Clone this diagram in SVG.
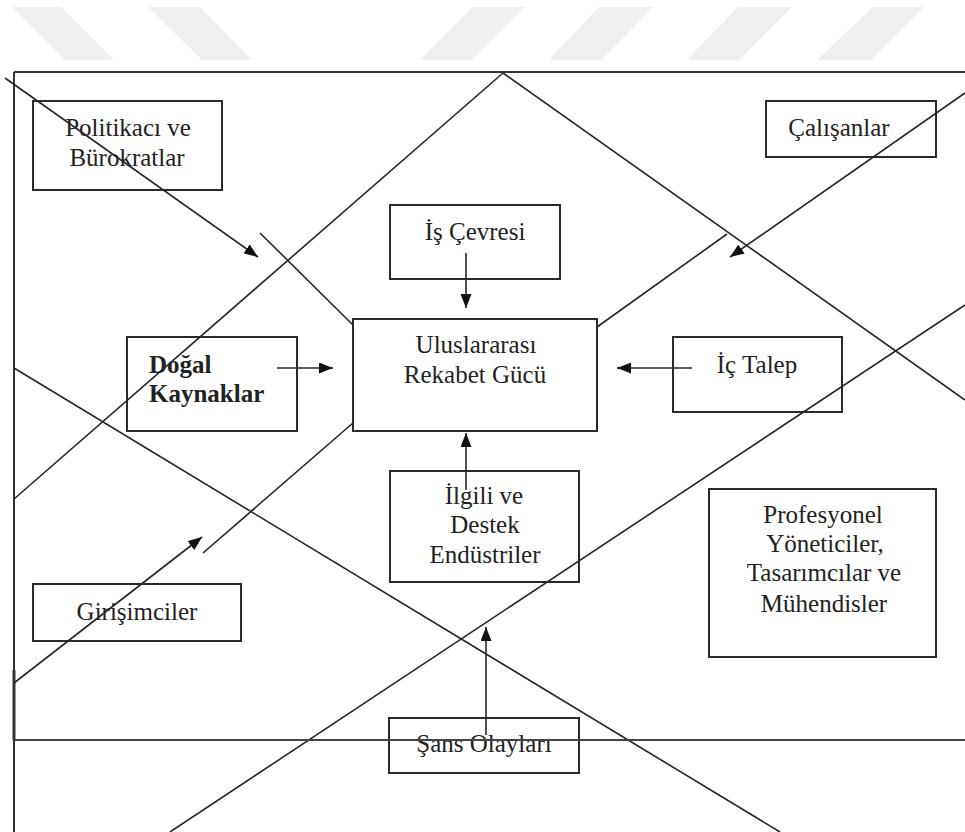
<svg xmlns="http://www.w3.org/2000/svg" width="965" height="832" viewBox="0 0 965 832">
<style>
.wm{fill:#efefef;stroke:none}
.box{fill:none;stroke:#2a2a2a;stroke-width:2}
.ln{fill:none;stroke:#262626;stroke-width:1.6}
.fr{fill:none;stroke:#333;stroke-width:2}
.t{font-family:"Liberation Serif","Times New Roman",serif;font-size:25px;fill:#222;text-anchor:middle}
.b{font-weight:bold;text-anchor:start}
</style>
<defs>
<marker id="ah2" viewBox="0 0 10 10" refX="10" refY="5" markerWidth="14" markerHeight="11" markerUnits="userSpaceOnUse" orient="auto" preserveAspectRatio="none">
<path d="M0,0 L10,5 L0,10 z" fill="#111"/>
</marker>
</defs>
<rect width="965" height="832" fill="#fff"/>
<g id="watermark">
<polygon class="wm" points="12,7 61,7 114,60 65,60"/>
<polygon class="wm" points="148,7 200,7 252,60 202,60"/>
<polygon class="wm" points="473,7 525,7 472,60 420,60"/>
<polygon class="wm" points="599,7 653,7 601,60 549,60"/>
<polygon class="wm" points="738,7 792,7 739,60 687,60"/>
<polygon class="wm" points="873,7 924,7 871,60 817,60"/>
</g>
<g id="frame">
<line class="fr" x1="14" y1="72" x2="965" y2="72"/>
<line class="fr" x1="14" y1="72" x2="14" y2="832"/>
<line class="fr" x1="14" y1="670" x2="14" y2="740" style="stroke-width:3"/>
</g>
<g id="n-politikaci">
<rect class="box" x="33" y="101" width="189" height="89"/>
<text class="t" x="128" y="136">Politikacı ve</text>
<text class="t" x="127" y="166">Bürokratlar</text>
</g>
<g id="n-calisanlar">
<rect class="box" x="766" y="101" width="170" height="56"/>
<text class="t" x="839" y="136">Çalışanlar</text>
</g>
<g id="n-is-cevresi">
<rect class="box" x="390" y="205" width="170" height="74"/>
<text class="t" x="475" y="240">İş Çevresi</text>
</g>
<g id="n-merkez">
<rect class="box" x="353" y="319" width="244" height="112"/>
<text class="t" x="476" y="353">Uluslararası</text>
<text class="t" x="475" y="383">Rekabet Gücü</text>
</g>
<g id="n-dogal">
<rect class="box" x="127" y="337" width="170" height="94"/>
<text class="t b" x="149" y="373">Doğal</text>
<text class="t b" x="149" y="402">Kaynaklar</text>
</g>
<g id="n-ic-talep">
<rect class="box" x="673" y="337" width="169" height="75"/>
<text class="t" x="757" y="373">İç Talep</text>
</g>
<g id="n-ilgili">
<rect class="box" x="390" y="471" width="189" height="111"/>
<text class="t" x="484" y="504">İlgili ve</text>
<text class="t" x="485" y="533">Destek</text>
<text class="t" x="485" y="563">Endüstriler</text>
</g>
<g id="n-profesyonel">
<rect class="box" x="709" y="489" width="227" height="168"/>
<text class="t" x="823" y="523">Profesyonel</text>
<text class="t" x="825" y="552">Yöneticiler,</text>
<text class="t" x="824" y="581">Tasarımcılar ve</text>
<text class="t" x="824" y="612">Mühendisler</text>
</g>
<g id="n-girisimciler">
<rect class="box" x="33" y="584" width="208" height="57"/>
<text class="t" x="137" y="620">Girişimciler</text>
</g>
<g id="n-sans">
<rect class="box" x="389" y="718" width="190" height="55"/>
<text class="t" x="484" y="752">Şans Olayları</text>
</g>
<g id="connectors">
<line class="ln" x1="503" y1="73" x2="14" y2="499"/>
<line class="ln" x1="503" y1="73" x2="965" y2="400"/>
<line class="ln" x1="14" y1="368" x2="780" y2="832"/>
<line class="ln" x1="170" y1="832" x2="965" y2="305"/>
<line class="ln" x1="260" y1="233" x2="353" y2="325"/>
<line class="ln" x1="727" y1="234" x2="597" y2="327"/>
<line class="ln" x1="203" y1="553" x2="353" y2="423"/>
<line class="ln" x1="5" y1="78" x2="258" y2="257" marker-end="url(#ah2)"/>
<line class="ln" x1="965" y1="93" x2="730" y2="257" marker-end="url(#ah2)"/>
<line class="ln" x1="14" y1="683" x2="202" y2="537" marker-end="url(#ah2)"/>
<line class="ln" x1="14" y1="740" x2="965" y2="740" style="stroke:#444;stroke-width:2"/>
<line class="ln" x1="466" y1="253" x2="466" y2="308" marker-end="url(#ah2)"/>
<line class="ln" x1="277" y1="368" x2="333" y2="368" marker-end="url(#ah2)"/>
<line class="ln" x1="692" y1="368" x2="617" y2="368" marker-end="url(#ah2)"/>
<line class="ln" x1="466" y1="490" x2="466" y2="433" marker-end="url(#ah2)"/>
<line class="ln" x1="486" y1="735" x2="486" y2="627" marker-end="url(#ah2)"/>
</g>
</svg>
